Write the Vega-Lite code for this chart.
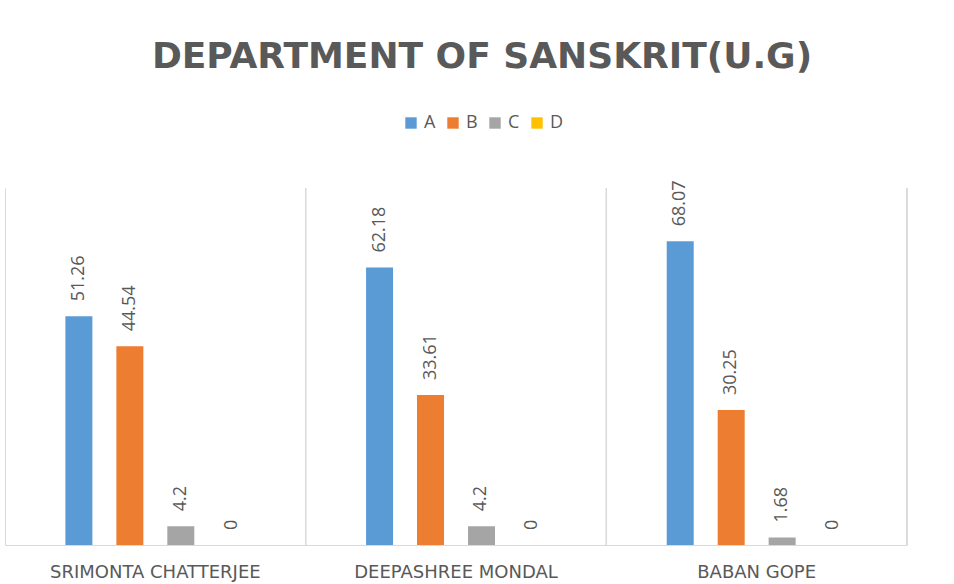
{
  "$schema": "https://vega.github.io/schema/vega-lite/v6.json",
  "autosize": {"type": "none"},
  "width": 902,
  "height": 357,
  "padding": {"left": 5, "top": 188, "right": 47, "bottom": 39},
  "background": "white",
  "config": {"view": {"stroke": null}},
  "title": {
    "text": "DEPARTMENT OF SANSKRIT(U.G)",
    "font": "DejaVu Sans",
    "fontSize": 36,
    "fontWeight": "bold",
    "color": "#595959",
    "frame": "group",
    "anchor": "middle",
    "offset": 38,
    "dx": 26
  },
  "data": {
    "values": [
      {"name": "SRIMONTA CHATTERJEE", "grade": "A", "value": 51.26},
      {"name": "SRIMONTA CHATTERJEE", "grade": "B", "value": 44.54},
      {"name": "SRIMONTA CHATTERJEE", "grade": "C", "value": 4.2},
      {"name": "SRIMONTA CHATTERJEE", "grade": "D", "value": 0},
      {"name": "DEEPASHREE MONDAL", "grade": "A", "value": 62.18},
      {"name": "DEEPASHREE MONDAL", "grade": "B", "value": 33.61},
      {"name": "DEEPASHREE MONDAL", "grade": "C", "value": 4.2},
      {"name": "DEEPASHREE MONDAL", "grade": "D", "value": 0},
      {"name": "BABAN GOPE", "grade": "A", "value": 68.07},
      {"name": "BABAN GOPE", "grade": "B", "value": 30.25},
      {"name": "BABAN GOPE", "grade": "C", "value": 1.68},
      {"name": "BABAN GOPE", "grade": "D", "value": 0}
    ]
  },
  "encoding": {
    "x": {
      "field": "name",
      "type": "nominal",
      "sort": null,
      "scale": {"paddingInner": 0, "paddingOuter": 0},
      "axis": {
        "title": null,
        "grid": true,
        "bandPosition": 0,
        "gridColor": "#d9d9d9",
        "gridWidth": 1,
        "domainColor": "#d9d9d9",
        "domainWidth": 1,
        "ticks": false,
        "labelAngle": 0,
        "labelFont": "DejaVu Sans",
        "labelFontSize": 18,
        "labelColor": "#595959",
        "labelPadding": 18,
        "labelLimit": 0
      }
    }
  },
  "layer": [
    {
      "mark": {"type": "rule", "color": "#d9d9d9", "strokeWidth": 1},
      "encoding": {
        "x": {"field": "name", "type": "nominal", "sort": null, "bandPosition": 1}
      }
    },
    {
      "mark": {"type": "bar", "width": 27},
      "encoding": {
        "xOffset": {"field": "grade", "type": "nominal", "scale": {"paddingInner": 0.1, "paddingOuter": 1}},
        "y": {"field": "value", "type": "quantitative", "scale": {"domain": [0, 80], "nice": false}, "axis": null},
        "color": {
          "field": "grade",
          "type": "nominal",
          "scale": {"domain": ["A", "B", "C", "D"], "range": ["#5B9BD5", "#ED7D31", "#A5A5A5", "#FFC000"]},
          "legend": {
            "orient": "none",
            "legendX": 397,
            "legendY": -74,
            "direction": "horizontal",
            "title": null,
            "symbolType": "square",
            "symbolSize": 130,
            "symbolStrokeWidth": 0,
            "labelFont": "Open Sans",
            "labelFontSize": 18,
            "labelColor": "#595959",
            "labelOffset": 4,
            "columnPadding": 8
          }
        }
      }
    },
    {
      "mark": {"type": "text", "angle": 270, "align": "left", "baseline": "middle", "dx": 15, "font": "Open Sans", "fontSize": 18, "color": "#595959"},
      "encoding": {
        "xOffset": {"field": "grade", "type": "nominal", "scale": {"paddingInner": 0.1, "paddingOuter": 1}},
        "y": {"field": "value", "type": "quantitative", "scale": {"domain": [0, 80], "nice": false}, "axis": null},
        "text": {"field": "value", "type": "nominal"}
      }
    }
  ]
}
